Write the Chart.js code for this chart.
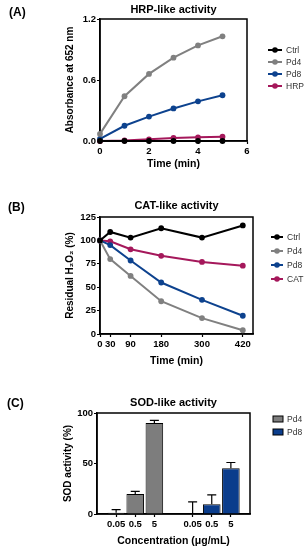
<!DOCTYPE html>
<html>
<head>
<meta charset="utf-8">
<script src="https://cdn.jsdelivr.net/npm/chart.js@4.4.1/dist/chart.umd.min.js"></script>
<style>
  html, body { margin: 0; padding: 0; background: #fff; }
  body { width: 307px; height: 550px; position: relative; overflow: hidden; font-family: 'Liberation Sans', Arial, sans-serif; }
  canvas { position: absolute; left: 0; }
  .tag { position: absolute; font-weight: bold; font-size: 12px; line-height: 14px; z-index: 2; }
</style>
</head>
<body>
<canvas id="hrpChart" width="307" height="175" style="top:0"></canvas>
<canvas id="catChart" width="307" height="175" style="top:195px"></canvas>
<canvas id="sodChart" width="307" height="160" style="top:390px"></canvas>
<div class="tag" style="left:9px;top:5px">(A)</div>
<div class="tag" style="left:8px;top:200px">(B)</div>
<div class="tag" style="left:7px;top:396px">(C)</div>
<script>
// HRP-like activity (A)
const hrpTime = [0, 1, 2, 3, 4, 5];
const hrpCtrl = [0, 0, 0, 0, 0, 0];
const hrpPd4 = [0.07, 0.44, 0.66, 0.82, 0.94, 1.03];
const hrpPd8 = [0.02, 0.15, 0.24, 0.32, 0.39, 0.45];
const hrpHrp = [0, 0.005, 0.016, 0.03, 0.036, 0.043];

// CAT-like activity (B)
const catTime = [0, 30, 90, 180, 300, 420];
const catTicks = [0, 30, 90, 180, 300, 420];
const catCtrl = [100, 109, 103, 113, 103, 116];
const catPd4 = [100, 80, 62, 35, 17, 4];
const catPd8 = [100, 95, 78.5, 55, 36.5, 19.5];
const catCat = [100, 99, 90.5, 83.5, 77, 73];

// SOD-like activity (C)
const sodLabels = ['0.05', '0.5', '5'];
const sodPd4 = [1.3, 19.9, 90];
const sodPd4Err = [3, 2.6, 2.7];
const sodPd8 = [0, 9.6, 45.4];
const sodPd8Err = [12, 9.3, 5.6];

const fontFamily = "'Liberation Sans', Arial, sans-serif";
Chart.defaults.font.family = fontFamily;
Chart.defaults.color = '#000';

const colors = { ctrl: '#000000', pd4: '#808080', pd8: '#0d428e', red: '#a5185b' };
const tickFont = { size: 9.5, weight: 'bold' };
const axisFont = { size: 10, weight: 'bold' };
const headFont = { size: 11, weight: 'bold' };

// box round the plot area
const frame = {
  id: 'frame',
  beforeDatasetsDraw(chart) {
    const a = chart.chartArea, ctx = chart.ctx;
    ctx.save();
    ctx.strokeStyle = '#000';
    ctx.lineWidth = 1.5;
    ctx.strokeRect(a.left, a.top, a.right - a.left, a.bottom - a.top);
    ctx.restore();
  }
};

// legend on the right side
const sideLegend = {
  id: 'sideLegend',
  afterDraw(chart, args, opts) {
    const ctx = chart.ctx;
    ctx.save();
    ctx.font = '8.5px ' + fontFamily;
    ctx.textBaseline = 'middle';
    chart.data.datasets.forEach((ds, i) => {
      const y = opts.y + i * opts.gap;
      if (opts.kind === 'box') {
        ctx.fillStyle = ds.backgroundColor;
        ctx.fillRect(opts.x, y - 3, 10, 6);
        ctx.strokeStyle = '#000';
        ctx.lineWidth = 1;
        ctx.strokeRect(opts.x, y - 3, 10, 6);
      } else {
        ctx.strokeStyle = ds.borderColor;
        ctx.lineWidth = 2;
        ctx.beginPath();
        ctx.moveTo(opts.x, y);
        ctx.lineTo(opts.x + opts.w, y);
        ctx.stroke();
        ctx.fillStyle = ds.borderColor;
        ctx.beginPath();
        ctx.arc(opts.x + opts.w / 2, y, 2.8, 0, Math.PI * 2);
        ctx.fill();
      }
      ctx.fillStyle = '#333';
      ctx.fillText(ds.label, opts.textX, y + 0.5);
    });
    ctx.restore();
  }
};

// upper error bars for the SOD chart
const errorBars = {
  id: 'errorBars',
  afterDatasetsDraw(chart) {
    const ctx = chart.ctx, yScale = chart.scales.y;
    ctx.save();
    ctx.strokeStyle = '#000';
    ctx.lineWidth = 1.2;
    chart.data.datasets.forEach((ds, i) => {
      const meta = chart.getDatasetMeta(i);
      meta.data.forEach((el, j) => {
        const v = ds.data[j];
        if (v === null) return;
        const top = yScale.getPixelForValue(v + ds.errors[j]);
        ctx.beginPath();
        ctx.moveTo(el.x, el.y);
        ctx.lineTo(el.x, top);
        ctx.moveTo(el.x - 4.5, top);
        ctx.lineTo(el.x + 4.5, top);
        ctx.stroke();
      });
    });
    ctx.restore();
  }
};

function yAxis(min, max, step, title, width, fmt) {
  return {
    min: min, max: max,
    ticks: { stepSize: step, font: tickFont, padding: 1, callback: fmt },
    grid: { drawOnChartArea: false, tickLength: 3, tickColor: '#000', tickWidth: 1.2 },
    border: { color: '#000', width: 1.5 },
    title: { display: true, text: title, font: axisFont, padding: 0 },
    afterFit: s => { s.width = width; }
  };
}

function xLinear(min, max, step, title, height) {
  return {
    type: 'linear', min: min, max: max,
    ticks: { stepSize: step, font: tickFont, padding: 2, maxRotation: 0 },
    grid: { drawOnChartArea: false, tickLength: 3, tickColor: '#000', tickWidth: 1.2 },
    border: { color: '#000', width: 1.5 },
    title: { display: true, text: title, font: { size: 10.5, weight: 'bold' }, padding: 0 },
    afterFit: s => { s.height = height; }
  };
}

function lineSet(label, xs, ys, color) {
  return {
    label: label,
    data: xs.map((x, i) => ({ x: x, y: ys[i] })),
    borderColor: color,
    backgroundColor: color,
    borderWidth: 2,
    pointRadius: 2.9,
    pointBackgroundColor: color,
    pointBorderWidth: 0,
    tension: 0,
    clip: false
  };
}

function titleOpts(text, top, bottom) {
  return { display: true, text: text, fullSize: false, font: headFont, color: '#000', padding: { top: top, bottom: bottom } };
}

new Chart(document.getElementById('hrpChart'), {
  type: 'line',
  data: {
    datasets: [
      lineSet('Ctrl', hrpTime, hrpCtrl, colors.ctrl),
      lineSet('Pd4', hrpTime, hrpPd4, colors.pd4),
      lineSet('Pd8', hrpTime, hrpPd8, colors.pd8),
      lineSet('HRP', hrpTime, hrpHrp, colors.red)
    ]
  },
  options: {
    responsive: false,
    animation: false,
    layout: { padding: { left: 64, right: 60, top: 0, bottom: 5 } },
    scales: {
      x: xLinear(0, 6, 2, 'Time (min)', 29),
      y: yAxis(0, 1.2, 0.6, 'Absorbance at 652 nm', 36, v => v.toFixed(1))
    },
    plugins: {
      legend: { display: false },
      tooltip: { enabled: false },
      title: titleOpts('HRP-like activity', 3.4, 2.4),
      sideLegend: { x: 268, w: 14, textX: 286, y: 50, gap: 12 }
    }
  },
  plugins: [frame, sideLegend]
});

const catX = xLinear(0, 450, 30, 'Time (min)', 33);
catX.afterBuildTicks = s => { s.ticks = catTicks.map(v => ({ value: v })); };

new Chart(document.getElementById('catChart'), {
  type: 'line',
  data: {
    datasets: [
      lineSet('Ctrl', catTime, catCtrl, colors.ctrl),
      lineSet('Pd4', catTime, catPd4, colors.pd4),
      lineSet('Pd8', catTime, catPd8, colors.pd8),
      lineSet('CAT', catTime, catCat, colors.red)
    ]
  },
  options: {
    responsive: false,
    animation: false,
    layout: { padding: { left: 64, right: 54, top: 0, bottom: 3 } },
    scales: {
      x: catX,
      y: yAxis(0, 125, 25, 'Residual H\u2082O\u2082 (%)', 36)
    },
    plugins: {
      legend: { display: false },
      tooltip: { enabled: false },
      title: titleOpts('CAT-like activity', 4.4, 4.4),
      sideLegend: { x: 271, w: 12, textX: 287, y: 42, gap: 14 }
    }
  },
  plugins: [frame, sideLegend]
});

// 9 slots: empty edge, Pd4 group, gap, Pd8 group, empty edge
const sodSlots = [''].concat(sodLabels, [''], sodLabels, ['']);
const pd4Data = [null].concat(sodPd4, [null, null, null, null, null]);
const pd8Data = [null, null, null, null, null].concat(sodPd8, [null]);
const pd4ErrData = [null].concat(sodPd4Err, [null, null, null, null, null]);
const pd8ErrData = [null, null, null, null, null].concat(sodPd8Err, [null]);

new Chart(document.getElementById('sodChart'), {
  type: 'bar',
  data: {
    labels: sodSlots,
    datasets: [
      { label: 'Pd4', data: pd4Data, errors: pd4ErrData, backgroundColor: '#7d7d7d', borderColor: '#000', borderWidth: 1, grouped: false, barPercentage: 0.92, categoryPercentage: 1 },
      { label: 'Pd8', data: pd8Data, errors: pd8ErrData, backgroundColor: '#0b3d8c', borderColor: '#000', borderWidth: 1, grouped: false, barPercentage: 0.92, categoryPercentage: 1 }
    ]
  },
  options: {
    responsive: false,
    animation: false,
    layout: { padding: { left: 62, right: 57, top: 0, bottom: 3 } },
    scales: {
      x: {
        type: 'category',
        offset: false,
        ticks: { font: tickFont, padding: 2, autoSkip: false, maxRotation: 0 },
        grid: { offset: false, drawOnChartArea: false, tickLength: 3, tickWidth: 1.2,
          tickColor: ctx => (sodSlots[ctx.index] ? '#000' : 'rgba(0,0,0,0)') },
        border: { color: '#000', width: 1.5 },
        title: { display: true, text: 'Concentration (\u03bcg/mL)', font: { size: 10.5, weight: 'bold' }, padding: 0 },
        afterFit: s => { s.height = 33; }
      },
      y: yAxis(0, 100, 50, 'SOD activity (%)', 35)
    },
    plugins: {
      legend: { display: false },
      tooltip: { enabled: false },
      title: titleOpts('SOD-like activity', 6.4, 3.4),
      sideLegend: { kind: 'box', x: 273, textX: 287, y: 29, gap: 13 }
    }
  },
  plugins: [frame, errorBars, sideLegend]
});
</script>
</body>
</html>
